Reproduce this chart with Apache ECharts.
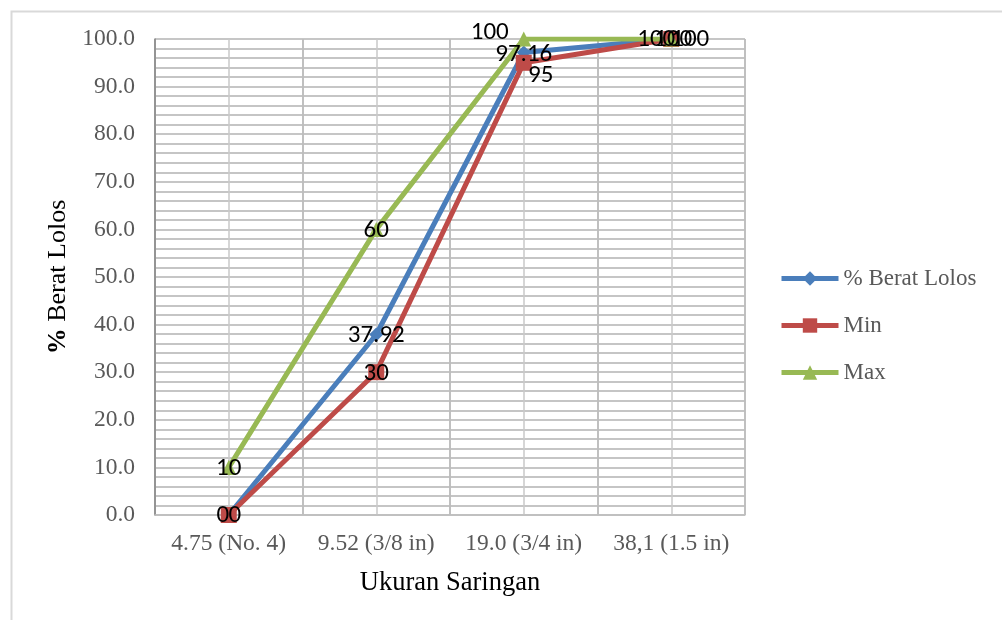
<!DOCTYPE html>
<html>
<head>
<meta charset="utf-8">
<style>
  html, body { margin: 0; padding: 0; background: #ffffff; }
  #chart { width: 1002px; height: 620px; }
</style>
<script src="https://cdn.jsdelivr.net/npm/echarts@6/dist/echarts.min.js"></script>
</head>
<body>
<div id="chart"></div>
<script>
// Sieve sizes (gradation analysis)
const categories = ['4.75 (No. 4)', '9.52 (3/8 in)', '19.0 (3/4 in)', '38,1 (1.5 in)'];

// Percent passing for the sample and the specification envelope
const beratLolos = [0, 37.92, 97.16, 100];
const minSpec = [0, 30, 95, 100];
const maxSpec = [10, 60, 100, 100];

// Per-point label nudges [dx, dy] so overlapping labels stay readable
const labelShiftLolos = [[-6, 1], [0, 1], [0, 2], [2, 1]];
const labelShiftMin = [[6, 1], [0, 2], [17, 13], [19, 1]];
const labelShiftMax = [[0, 1], [0, 1], [-34, -6], [-15, 1]];

const serif = '"Liberation Serif", "Times New Roman", serif';
const labelFont = 'Carlito, "Open Sans", "Liberation Sans", sans-serif';

function withLabels(values, shifts) {
  return values.map((v, i) => ({
    value: v,
    label: { offset: shifts[i] }
  }));
}

const labelStyle = {
  show: true,
  position: 'inside',
  color: '#000000',
  fontFamily: labelFont,
  fontSize: 25
};

const chart = echarts.init(document.getElementById('chart'), null, { renderer: 'canvas' });

chart.setOption({
  animation: false,
  backgroundColor: '#ffffff',
  graphic: [{
    type: 'rect',
    left: 9, top: 9,
    shape: { width: 1100, height: 800 },
    style: { fill: 'none', stroke: '#d9d9d9', lineWidth: 2 },
    silent: true, z: -10
  }],
  grid: { left: 155, right: 257, top: 39, bottom: 105, containLabel: false },
  legend: {
    orient: 'vertical',
    left: 774,
    top: 262,
    itemWidth: 57,
    itemHeight: 18,
    itemGap: 24,
    lineStyle: { width: 5 },
    textStyle: { fontFamily: serif, fontSize: 23, color: '#595959' },
    data: ['% Berat Lolos', 'Min', 'Max']
  },
  xAxis: [{
    type: 'category',
    data: categories,
    boundaryGap: true,
    name: 'Ukuran Saringan',
    nameLocation: 'middle',
    nameGap: 55,
    nameTextStyle: { fontFamily: serif, fontSize: 26.5, color: '#000000' },
    axisLine: { show: true, lineStyle: { color: '#bfbfbf', width: 1.5 } },
    axisTick: { show: false },
    axisLabel: { interval: 0, fontFamily: serif, fontSize: 23.5, color: '#595959', margin: 17 },
    splitLine: { show: true, interval: 0, lineStyle: { color: '#8c8c8c', width: 1.5 } }
  }, {
    // half-category guide lines through each sieve size
    type: 'value',
    min: 0, max: 8, interval: 1,
    show: true,
    position: 'top',
    axisLine: { show: false },
    axisTick: { show: false },
    axisLabel: { show: false },
    splitLine: { show: true, lineStyle: { color: '#c8c8c8', width: 1.5 } }
  }],
  yAxis: {
    type: 'value',
    min: 0, max: 100, interval: 10,
    name: '{b|%} Berat Lolos',
    nameLocation: 'middle',
    nameGap: 82,
    nameTextStyle: {
      fontFamily: serif, fontSize: 26, color: '#000000',
      rich: { b: { fontFamily: serif, fontSize: 26, fontWeight: 'bold', color: '#000000' } }
    },
    axisLine: { show: true, lineStyle: { color: '#868686', width: 1.5 } },
    axisTick: { show: false },
    axisLabel: {
      fontFamily: serif, fontSize: 23.5, color: '#595959', margin: 20,
      formatter: v => v.toFixed(1)
    },
    splitLine: { show: true, lineStyle: { color: '#b3b3b3', width: 1.5 } },
    minorTick: { show: false, splitNumber: 5 },
    minorSplitLine: { show: true, lineStyle: { color: '#b3b3b3', width: 1.5 } }
  },
  series: [{
    name: '% Berat Lolos',
    type: 'line',
    data: withLabels(beratLolos, labelShiftLolos),
    symbol: 'diamond',
    symbolSize: 14,
    color: '#4a7ebb',
    lineStyle: { width: 5, color: '#4a7ebb' },
    itemStyle: { color: '#4a7ebb' },
    label: labelStyle
  }, {
    name: 'Min',
    type: 'line',
    data: withLabels(minSpec, labelShiftMin),
    symbol: 'rect',
    symbolSize: 16,
    color: '#be4b48',
    lineStyle: { width: 5, color: '#be4b48' },
    itemStyle: { color: '#be4b48' },
    label: labelStyle
  }, {
    name: 'Max',
    type: 'line',
    data: withLabels(maxSpec, labelShiftMax),
    symbol: 'triangle',
    symbolSize: 15,
    color: '#98b954',
    lineStyle: { width: 5, color: '#98b954' },
    itemStyle: { color: '#98b954' },
    label: labelStyle
  }]
});
</script>
</body>
</html>
